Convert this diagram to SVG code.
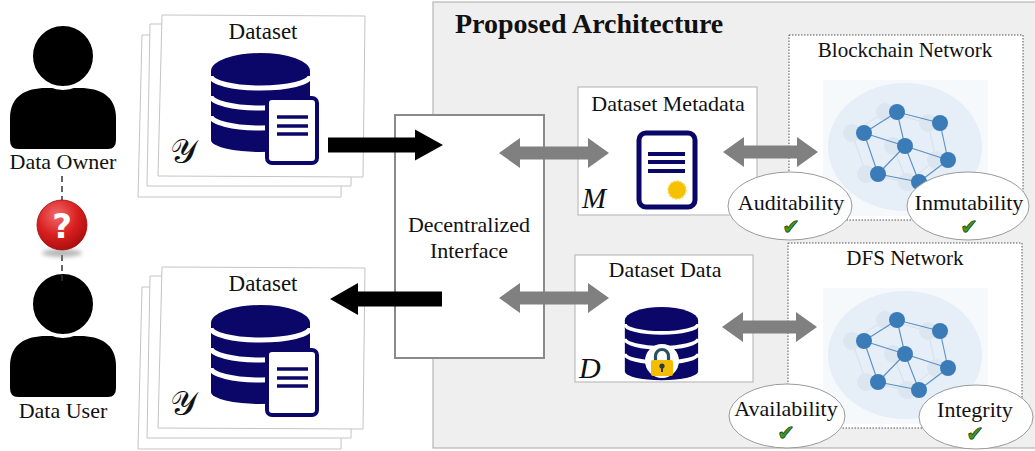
<svg xmlns="http://www.w3.org/2000/svg" xmlns:xlink="http://www.w3.org/1999/xlink" width="1035" height="451" viewBox="0 0 1035 451">
  <style>
    .serif { font-family: "Liberation Serif", "Times New Roman", serif; fill: #111; }
    .lbl { font-size: 22px; text-anchor: middle; }
    .card { fill: #fff; stroke: #c4c4c4; stroke-width: 1; }
    .box { fill: #fff; stroke: #bdbdbd; stroke-width: 1.2; }
    .netbox { fill: #fff; stroke: #555; stroke-width: 1; stroke-dasharray: 1.5 1.5; }
    .prop { fill: #fff; stroke: #9a9a9a; stroke-width: 1; }
    .check { font-family: "DejaVu Sans", sans-serif; font-size: 21px; fill: #3f9a22; stroke: #15300a; stroke-width: 0.7; text-anchor: middle; }
    .garrow { fill: #808080; }
    .karrow { fill: #000; }
    .navy { fill: #0b0768; }
    .band { fill: none; stroke: #fff; stroke-width: 5; }
    .edge { stroke: #5c8fc2; stroke-width: 1.1; }
    .ghostedge { stroke: #d6e1ec; stroke-width: 1; }
    .node { fill: #3b7cb8; }
    .ghost { fill: #dbe6f1; }
  </style>
  <defs>
    <radialGradient id="redball" cx="0.4" cy="0.3" r="0.75">
      <stop offset="0" stop-color="#f26a6a"/>
      <stop offset="0.55" stop-color="#d81f1f"/>
      <stop offset="1" stop-color="#a80c0c"/>
    </radialGradient>
    <filter id="soft" x="-50%" y="-50%" width="200%" height="200%">
      <feGaussianBlur stdDeviation="2"/>
    </filter>
    <!-- database cylinder -->
    <g id="db">
      <path class="navy" d="M211,71 A49.5,18 0 0 1 310,71 V140 A49.5,12 0 0 1 211,140 Z"/>
      <path class="band" d="M211,76 A49.5,12 0 0 0 310,76"/>
      <path class="band" d="M211,96 A49.5,12 0 0 0 310,96"/>
      <path class="band" d="M211,116 A49.5,12 0 0 0 310,116"/>
    </g>
    <!-- database with a document sheet -->
    <g id="dbdoc">
      <use xlink:href="#db"/>
      <rect x="267" y="98" width="50" height="65" rx="5" fill="#fff" stroke="#0b0768" stroke-width="4"/>
      <g stroke="#0b0768" stroke-width="3.5">
        <line x1="277" y1="117" x2="308" y2="117"/>
        <line x1="277" y1="126" x2="308" y2="126"/>
        <line x1="277" y1="134" x2="308" y2="134"/>
      </g>
    </g>
    <!-- stacked dataset cards -->
    <g id="cards">
      <polygon class="card" points="142,35 343,35 341,197 138,197"/>
      <polygon class="card" points="150,24 353,24 351,186 147,186"/>
      <polygon class="card" points="162,15 365,16 363,177 158,176"/>
    </g>
    <!-- person silhouette -->
    <g id="person">
      <path d="M10,140 V118 C10,96 26,88 46,88 L80,88 C100,88 116,96 116,118 V140 Q116,149 108,149 H18 Q10,149 10,140 Z" fill="#000"/>
      <circle cx="63" cy="56" r="32" fill="#000" stroke="#fff" stroke-width="4"/>
    </g>
    <!-- peer-to-peer network illustration -->
    <g id="net">
      <rect x="823" y="80" width="165" height="136" fill="#f6f9fc"/>
      <ellipse cx="905" cy="147" rx="77" ry="64" fill="#e6eef7"/>
      <g class="ghostedge">
        <line x1="885" y1="112" x2="928" y2="123"/>
        <line x1="885" y1="112" x2="852" y2="133"/>
        <line x1="852" y1="133" x2="866" y2="174"/>
        <line x1="928" y1="123" x2="936" y2="160"/>
        <line x1="866" y1="174" x2="907" y2="182"/>
        <line x1="907" y1="182" x2="936" y2="160"/>
        <line x1="893" y1="146" x2="907" y2="182"/>
      </g>
      <g class="ghost">
        <circle cx="885" cy="112" r="9"/>
        <circle cx="928" cy="123" r="9"/>
        <circle cx="852" cy="133" r="9"/>
        <circle cx="893" cy="146" r="9"/>
        <circle cx="936" cy="160" r="9"/>
        <circle cx="866" cy="174" r="9"/>
        <circle cx="907" cy="182" r="9"/>
      </g>
      <g class="edge">
        <line x1="897" y1="112" x2="940" y2="123"/>
        <line x1="897" y1="112" x2="864" y2="133"/>
        <line x1="897" y1="112" x2="905" y2="146"/>
        <line x1="864" y1="133" x2="905" y2="146"/>
        <line x1="905" y1="146" x2="948" y2="160"/>
        <line x1="940" y1="123" x2="948" y2="160"/>
        <line x1="864" y1="133" x2="878" y2="174"/>
        <line x1="905" y1="146" x2="878" y2="174"/>
        <line x1="905" y1="146" x2="919" y2="182"/>
        <line x1="878" y1="174" x2="919" y2="182"/>
        <line x1="919" y1="182" x2="948" y2="160"/>
      </g>
      <g class="node">
        <circle cx="897" cy="112" r="8"/>
        <circle cx="940" cy="123" r="8"/>
        <circle cx="864" cy="133" r="8"/>
        <circle cx="905" cy="146" r="8"/>
        <circle cx="948" cy="160" r="8"/>
        <circle cx="878" cy="174" r="8"/>
        <circle cx="919" cy="182" r="8"/>
      </g>
    </g>
  </defs>

  <!-- architecture panel -->
  <g id="panel">
    <rect x="433" y="2" width="610" height="446" fill="#efefef" stroke="#b5b5b5" stroke-width="1.2"/>
    <text class="serif" x="455" y="33" font-size="28" font-weight="bold">Proposed Architecture</text>
  </g>

  <!-- actors -->
  <g id="data-owner">
    <use xlink:href="#person"/>
    <text class="serif lbl" x="63" y="169">Data Owner</text>
  </g>
  <g id="data-user">
    <use xlink:href="#person" transform="translate(0,248)"/>
    <text class="serif lbl" x="63" y="418">Data User</text>
  </g>
  <g id="trust-question">
    <line x1="62" y1="176" x2="62" y2="201" stroke="#333" stroke-width="1.5" stroke-dasharray="6 4"/>
    <line x1="62" y1="255" x2="62" y2="284" stroke="#333" stroke-width="1.5" stroke-dasharray="6 4"/>
    <ellipse cx="62" cy="253" rx="20" ry="4" fill="#888" opacity="0.6" filter="url(#soft)"/>
    <circle cx="62" cy="225" r="25" fill="url(#redball)" stroke="#9a0a0a" stroke-width="0.8"/>
    <text x="62" y="238" font-family="'DejaVu Sans', sans-serif" font-weight="bold" font-size="34" fill="#fff" text-anchor="middle">?</text>
  </g>

  <!-- datasets -->
  <g id="dataset-owner">
    <use xlink:href="#cards"/>
    <text class="serif" x="263" y="39" font-size="23" text-anchor="middle">Dataset</text>
    <use xlink:href="#dbdoc"/>
    <text class="serif" x="170" y="163" font-size="34">𝒴</text>
  </g>
  <g id="dataset-user">
    <g transform="translate(0,252)">
      <use xlink:href="#cards"/>
      <text class="serif" x="263" y="39" font-size="23" text-anchor="middle">Dataset</text>
      <use xlink:href="#dbdoc"/>
      <text class="serif" x="170" y="163" font-size="34">𝒴</text>
    </g>
  </g>

  <!-- decentralized interface -->
  <g id="interface">
    <rect x="395" y="115" width="149" height="243" fill="#fff" stroke="#8a8a8a" stroke-width="2"/>
    <text class="serif lbl" x="469" y="232">Decentralized</text>
    <text class="serif lbl" x="469" y="258">Interface</text>
  </g>

  <!-- metadata store -->
  <g id="dataset-metadata">
    <rect class="box" x="578" y="87" width="179" height="128"/>
    <text class="serif lbl" x="668" y="111">Dataset Metadata</text>
    <text class="serif" x="582" y="208" font-size="29" font-style="italic">M</text>
    <rect x="639" y="133" width="56" height="74" rx="7" fill="#fff" stroke="#0b0768" stroke-width="5"/>
    <g stroke="#0b0768" stroke-width="4">
      <line x1="648" y1="154" x2="685" y2="154"/>
      <line x1="648" y1="162" x2="685" y2="162"/>
      <line x1="648" y1="171" x2="685" y2="171"/>
    </g>
    <circle cx="677" cy="190" r="9" fill="#f6c200" stroke="#f9d75a" stroke-width="1.5" stroke-dasharray="2 1.5"/>
  </g>

  <!-- data store -->
  <g id="dataset-data">
    <rect class="box" x="575" y="255" width="178" height="127"/>
    <text class="serif lbl" x="665" y="277">Dataset Data</text>
    <text class="serif" x="579" y="378" font-size="30" font-style="italic">D</text>
    <use xlink:href="#db" transform="translate(468.7,267.8) scale(0.74)"/>
    <circle cx="662" cy="361" r="17" fill="#fff"/>
    <path d="M655.5,362 V356 A6.5,6.5 0 0 1 668.5,356 V362" fill="none" stroke="#2d4f5f" stroke-width="3.2"/>
    <rect x="651" y="360" width="22" height="16" rx="2" fill="#f5bd00"/>
    <circle cx="662" cy="366" r="2.6" fill="#2d3a40"/>
    <rect x="661" y="366" width="2" height="6" fill="#2d3a40"/>
  </g>

  <!-- blockchain network -->
  <g id="blockchain-network">
    <rect class="netbox" x="789" y="35" width="234" height="185"/>
    <text class="serif" x="905" y="57" font-size="21" text-anchor="middle">Blockchain Network</text>
    <use xlink:href="#net"/>
  </g>

  <!-- distributed file system network -->
  <g id="dfs-network">
    <rect class="netbox" x="788" y="243" width="234" height="185"/>
    <text class="serif" x="905" y="265" font-size="21" text-anchor="middle">DFS Network</text>
    <use xlink:href="#net" transform="translate(0,208)"/>
  </g>

  <!-- guaranteed properties -->
  <g id="prop-auditability">
    <ellipse class="prop" cx="790" cy="206" rx="62" ry="34"/>
    <text class="serif lbl" x="791" y="210">Auditability</text>
    <text class="check" x="791" y="234">✔</text>
  </g>
  <g id="prop-inmutability">
    <ellipse class="prop" cx="968" cy="206" rx="61" ry="34"/>
    <text class="serif lbl" x="969" y="210">Inmutability</text>
    <text class="check" x="969" y="234">✔</text>
  </g>
  <g id="prop-availability">
    <ellipse class="prop" cx="787" cy="416" rx="58" ry="32"/>
    <text class="serif lbl" x="786" y="416">Availability</text>
    <text class="check" x="786" y="440">✔</text>
  </g>
  <g id="prop-integrity">
    <ellipse class="prop" cx="976" cy="417" rx="57" ry="32"/>
    <text class="serif lbl" x="975" y="417">Integrity</text>
    <text class="check" x="975" y="441">✔</text>
  </g>

  <!-- connectors -->
  <g id="connectors">
    <path class="karrow" d="M328,137.5 H415 V129.5 L443,145 L415,160.5 V152.5 H328 Z"/>
    <path class="karrow" d="M442,291.5 H358 V283 L330,299 L358,315 V306.5 H442 Z"/>
    <path class="garrow" d="M499,153 L520,138 V146.5 H588 V138 L609,153 L588,168 V159.5 H520 V168 Z"/>
    <path class="garrow" d="M499,298 L520,283 V291.5 H588 V283 L609,298 L588,313 V304.5 H520 V313 Z"/>
    <path class="garrow" d="M723,152 L744,137 V145.5 H797 V137 L818,152 L797,167 V158.5 H744 V167 Z"/>
    <path class="garrow" d="M722,327 L743,312 V320.5 H796 V312 L817,327 L796,342 V333.5 H743 V342 Z"/>
  </g>
</svg>
